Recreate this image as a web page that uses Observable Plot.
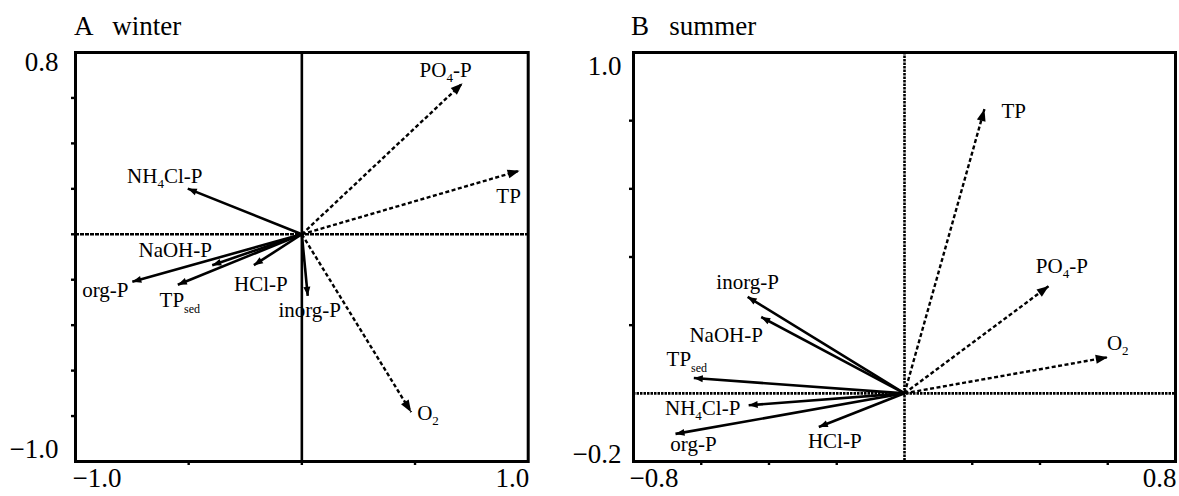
<!DOCTYPE html>
<html>
<head>
<meta charset="utf-8">
<script src="https://cdn.jsdelivr.net/npm/d3@7"></script>
<script src="https://cdn.jsdelivr.net/npm/@observablehq/plot@0.6"></script>
<style>
html, body { margin: 0; padding: 0; background: #fff; }
#root { position: relative; width: 1179px; height: 496px; overflow: hidden;
        font-family: "Liberation Serif", "Times New Roman", serif; }
#root svg, #root svg text { font-family: "Liberation Serif", "Times New Roman", serif; }
.panel { position: absolute; top: 0; }
.title { position: absolute; top: 13px; font-size: 27px; line-height: 27px; color: #000; white-space: pre; }
</style>
</head>
<body>
<div id="root">
  <div class="panel" id="pa" style="left:0px"></div>
  <div class="panel" id="pb" style="left:580px"></div>
  <div class="title" id="ta" style="left:74px"></div>
  <div class="title" id="tb" style="left:631px"></div>
</div>
<script>
// ---------------- data ----------------
const panelTitles = ["A   winter", "B   summer"];

// Winter (A)
const winterNames = ["PO{4}-P", "TP", "NH{4}Cl-P", "NaOH-P", "org-P", "TP{sed}", "HCl-P", "inorg-P", "O{2}"];
const winterX     = [0.71, 0.962, -0.504, -0.396, -0.749, -0.548, -0.212, 0.026, 0.483];
const winterY     = [0.665, 0.28, 0.201, -0.136, -0.209, -0.222, -0.136, -0.271, -0.783];
const winterKind  = ["water", "water", "sediment", "sediment", "sediment", "sediment", "sediment", "sediment", "water"];
const winterXDomain = [-1.0, 1.0];
const winterYDomain = [-1.0, 0.8];
const winterXTicks = [-0.5, 0, 0.5];
const winterYTicks = [0.6, 0.4, 0.2, 0, -0.2, -0.4, -0.6, -0.8];

// Summer (B)
const summerNames = ["TP", "PO{4}-P", "O{2}", "inorg-P", "NaOH-P", "TP{sed}", "NH{4}Cl-P", "org-P", "HCl-P"];
const summerX     = [0.236, 0.426, 0.60, -0.463, -0.423, -0.622, -0.46, -0.676, -0.253];
const summerY     = [0.834, 0.315, 0.106, 0.283, 0.224, 0.045, -0.035, -0.119, -0.099];
const summerKind  = ["water", "water", "water", "sediment", "sediment", "sediment", "sediment", "sediment", "sediment"];
const summerXDomain = [-0.8, 0.8];
const summerYDomain = [-0.2, 1.0];
const summerXTicks = [-0.6, -0.4, -0.2, 0.2, 0.4, 0.6];
const summerYTicks = [0.2, 0.4, 0.6, 0.8];

// ---------------- layout (pixel offsets of labels from arrow tips) ----------------
const winterLabelLayout = [
  {dx: -17, dy: -13, anchor: "middle"},
  {dx: -11, dy: 26, anchor: "middle"},
  {dx: -23, dy: -12, anchor: "middle"},
  {dx: -37, dy: -15, anchor: "middle"},
  {dx: -27, dy: 8, anchor: "middle"},
  {dx: 2, dy: 16, anchor: "middle"},
  {dx: 7, dy: 19, anchor: "middle"},
  {dx: 2, dy: 14, anchor: "middle"},
  {dx: 6, dy: 1, anchor: "start"}
];
const summerLabelLayout = [
  {dx: 17, dy: 2, anchor: "start"},
  {dx: 13, dy: -20, anchor: "middle"},
  {dx: 10, dy: -14, anchor: "middle"},
  {dx: 0, dy: -15, anchor: "middle"},
  {dx: -35, dy: 18, anchor: "middle"},
  {dx: -7, dy: -19, anchor: "middle"},
  {dx: -46, dy: 3, anchor: "middle"},
  {dx: 18, dy: 10, anchor: "middle"},
  {dx: 16, dy: 14, anchor: "middle"}
];

const fmt = d3.format(".1f");
const serif = '"Liberation Serif", "Times New Roman", serif';

function head(len, wid) {
  return () => {
    const m = d3.create("svg:marker")
      .attr("viewBox", `${-len} ${-wid / 2} ${len} ${wid}`)
      .attr("markerWidth", len)
      .attr("markerHeight", wid)
      .attr("markerUnits", "userSpaceOnUse")
      .attr("orient", "auto")
      .attr("refX", 0)
      .attr("refY", 0)
      .attr("overflow", "visible");
    m.append("path")
      .attr("d", `M${-len},${-wid / 2}L0,0L${-len},${wid / 2}Z`)
      .attr("fill", "black")
      .attr("stroke", "none")
      .attr("stroke-dasharray", "none");
    return m.node();
  };
}

function applySubscripts(svg) {
  d3.select(svg).selectAll("text").each(function () {
    const s = this.textContent;
    if (!s.includes("{")) return;
    const parts = s.split(/(\{[^}]*\})/).filter(p => p);
    this.textContent = "";
    let shifted = 0;
    for (const p of parts) {
      const sub = p.startsWith("{");
      const ts = d3.select(this).append("tspan").text(sub ? p.slice(1, -1) : p);
      if (sub) {
        const shift = p.length > 3 ? 6 : 5;
        ts.attr("font-size", p.length > 3 ? 12 : 13).attr("dy", shift - shifted);
        shifted = shift;
      } else if (shifted) {
        ts.attr("dy", -shifted);
        shifted = 0;
      }
    }
  });
}

function panel(cfg) {
  const idx = d3.range(cfg.names.length);
  const solid = idx.filter(i => cfg.kind[i] === "sediment");
  const dashed = idx.filter(i => cfg.kind[i] === "water");
  const labelMarks = idx.map(i => Plot.text([i], {
    x: j => cfg.xs[j], y: j => cfg.ys[j], text: j => cfg.names[j],
    dx: cfg.layout[i].dx, dy: cfg.layout[i].dy, textAnchor: cfg.layout[i].anchor,
    fontSize: 21, fontFamily: serif, fill: "black"
  }));
  const [x0, x1] = cfg.xDomain;
  const [y0, y1] = cfg.yDomain;
  const tickText = {fontSize: 27, fontFamily: serif, fill: "black"};
  const fig = Plot.plot({
    width: cfg.width,
    height: 496,
    marginLeft: cfg.ml,
    marginRight: cfg.mr,
    marginTop: 52,
    marginBottom: 35,
    x: {domain: cfg.xDomain, axis: null},
    y: {domain: cfg.yDomain, axis: null},
    style: {fontFamily: serif, fontSize: "21px", color: "black", background: "white", overflow: "visible"},
    marks: [
      Plot.ruleX([0], {stroke: "black", strokeWidth: 2.6, strokeDasharray: cfg.vDash}),
      Plot.ruleY([0], {stroke: "black", strokeWidth: 2.6, strokeDasharray: cfg.hDash}),
      Plot.axisY(cfg.yTicks, {anchor: "left", tickSize: 4, strokeWidth: 2.4, tickFormat: () => ""}),
      Plot.axisX(cfg.xTicks, {anchor: "bottom", tickSize: 4, strokeWidth: 2.4, tickFormat: () => ""}),
      Plot.frame({stroke: "black", strokeWidth: 3}),
      Plot.link(solid, {x1: () => 0, y1: () => 0, x2: i => cfg.xs[i], y2: i => cfg.ys[i],
        stroke: "black", strokeWidth: 2.6, markerEnd: head(9, 7)}),
      Plot.link(dashed, {x1: () => 0, y1: () => 0, x2: i => cfg.xs[i], y2: i => cfg.ys[i],
        stroke: "black", strokeWidth: 2.4, strokeDasharray: "4,2.5", markerEnd: head(12, 9)}),
      ...labelMarks,
      // extreme tick labels
      Plot.text([y1], {y: d => d, frameAnchor: "left", textAnchor: "end", dx: cfg.yLabDx, dy: cfg.yTopDy, text: d => fmt(d), ...tickText}),
      Plot.text([y0], {y: d => d, frameAnchor: "left", textAnchor: "end", dx: cfg.yLabDx, dy: cfg.yBotDy, text: d => fmt(d), ...tickText}),
      Plot.text([x0], {x: d => d, frameAnchor: "bottom", textAnchor: "start", dx: cfg.xLeftDx, dy: 25, text: d => fmt(d), ...tickText}),
      Plot.text([x1], {x: d => d, frameAnchor: "bottom", textAnchor: "end", dx: 1, dy: 25, text: d => fmt(d), ...tickText})
    ]
  });
  applySubscripts(fig);
  return fig;
}

document.getElementById("ta").textContent = panelTitles[0];
document.getElementById("tb").textContent = panelTitles[1];

document.getElementById("pa").append(panel({
  names: winterNames, xs: winterX, ys: winterY, kind: winterKind, layout: winterLabelLayout,
  xDomain: winterXDomain, yDomain: winterYDomain, xTicks: winterXTicks, yTicks: winterYTicks,
  width: 580, ml: 75, mr: 52.3, vDash: null, hDash: "4,1",
  yLabDx: -17, yTopDy: 10, yBotDy: -12, xLeftDx: -3
}));

document.getElementById("pb").append(panel({
  names: summerNames, xs: summerX, ys: summerY, kind: summerKind, layout: summerLabelLayout,
  xDomain: summerXDomain, yDomain: summerYDomain, xTicks: summerXTicks, yTicks: summerYTicks,
  width: 599, ml: 53, mr: 4, vDash: "2.5,1", hDash: "2.5,1",
  yLabDx: -12, yTopDy: 14, yBotDy: -7, xLeftDx: -4
}));
</script>
</body>
</html>
